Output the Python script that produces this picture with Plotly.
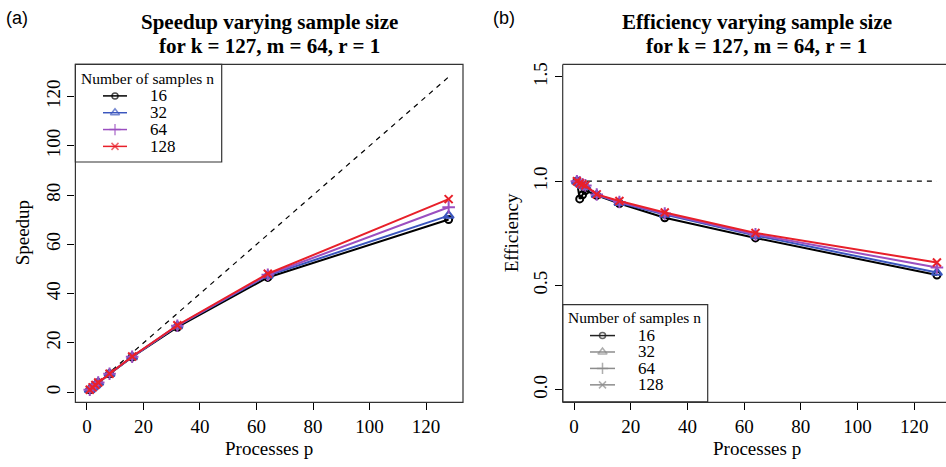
import plotly.graph_objects as go

# ---------------- data ----------------
p = [1, 2, 3, 4, 8, 16, 32, 64, 128]
n_labels = ["16", "32", "64", "128"]

speedup_n16 = [1.0, 1.83, 2.80, 3.82, 7.46, 14.3, 26.4, 46.6, 70.1]
speedup_n32 = [1.0, 1.98, 2.94, 3.90, 7.48, 14.35, 26.9, 47.4, 71.7]
speedup_n64 = [1.0, 1.99, 2.95, 3.92, 7.49, 14.4, 27.0, 47.7, 75.1]
speedup_n128 = [1.0, 1.98, 2.96, 3.92, 7.50, 14.5, 27.2, 48.1, 78.4]

eff_n16 = [1.0, 0.915, 0.935, 0.955, 0.932, 0.893, 0.825, 0.728, 0.550]
eff_n32 = [1.0, 0.990, 0.980, 0.975, 0.935, 0.897, 0.840, 0.740, 0.562]
eff_n64 = [1.0, 0.995, 0.985, 0.980, 0.936, 0.900, 0.845, 0.745, 0.586]
eff_n128 = [1.0, 0.990, 0.985, 0.980, 0.937, 0.905, 0.850, 0.752, 0.610]

ideal_speedup = [1, 128]
ideal_p = [1, 128]
ideal_eff = [1, 1]

x_ticks = [0, 20, 40, 60, 80, 100, 120]
speedup_ticks = [0, 20, 40, 60, 80, 100, 120]
eff_ticks = [0.0, 0.5, 1.0, 1.5]
eff_tick_text = ["0.0", "0.5", "1.0", "1.5"]

speedups = [speedup_n16, speedup_n32, speedup_n64, speedup_n128]
effs = [eff_n16, eff_n32, eff_n64, eff_n128]

# ---------------- style ----------------
colors = ["#000000", "#3B56BE", "#9B4FC0", "#E8202A"]
legend_gray = ["#222222", "#8C8C8C", "#8C8C8C", "#8C8C8C"]
symbols = ["circle-open", "triangle-up-open", "cross-thin-open", "x-thin-open"]
msizes = [7, 9, 9, 8]
SERIF = "Liberation Serif, Times New Roman, serif"
SANS = "Liberation Sans, Arial, sans-serif"
W, H = 946, 467

def fx(px):
    return px / W

def fy(py):
    return 1 - py / H

# plot regions in pixels
L_X0, L_X1 = 75.4, 463.0
R_X0, R_X1 = 562.7, 946.0
Y_TOP, Y_BOT = 62.7, 402.0

fig = go.Figure()

# ideal lines
fig.add_trace(go.Scatter(x=ideal_p, y=ideal_speedup, mode="lines",
                         line=dict(color="black", width=1.2, dash="5px,5px"),
                         xaxis="x", yaxis="y", showlegend=False, hoverinfo="skip"))
fig.add_trace(go.Scatter(x=ideal_p, y=ideal_eff, mode="lines",
                         line=dict(color="black", width=1.2, dash="5px,5px"),
                         xaxis="x2", yaxis="y2", showlegend=False, hoverinfo="skip"))

for i in range(4):
    mk = dict(symbol=symbols[i], size=msizes[i], color=colors[i],
              line=dict(color=colors[i], width=2))
    fig.add_trace(go.Scatter(x=p, y=speedups[i], mode="lines+markers",
                             line=dict(color=colors[i], width=2), marker=mk,
                             xaxis="x", yaxis="y", showlegend=False, name=n_labels[i]))
    fig.add_trace(go.Scatter(x=p, y=effs[i], mode="lines+markers",
                             line=dict(color=colors[i], width=2), marker=mk,
                             xaxis="x2", yaxis="y2", showlegend=False, name=n_labels[i]))

# ---------------- legends (drawn manually, R style) ----------------
legends = [
    dict(box=(75.4, 62.7, 221.7, 160.7), title=(78.5, 76.5),
         items=[94.3, 111.2, 128.1, 145.0], key=(103, 115, 127), text_x=148,
         cols=colors),
    dict(box=(562.7, 304.0, 707.7, 401.5), title=(565.7, 316.5),
         items=[335.0, 351.5, 368.0, 384.5], key=(590, 602.5, 615), text_x=636,
         cols=legend_gray),
]

shapes = []
annotations = []
for lg in legends:
    bx0, by0, bx1, by1 = lg["box"]
    shapes.append(dict(type="rect", xref="paper", yref="paper",
                       x0=fx(bx0), x1=fx(bx1), y0=fy(by1), y1=fy(by0),
                       line=dict(color="#333333", width=1.2),
                       fillcolor="white", layer="below"))
    annotations.append(dict(x=fx(lg["title"][0]), y=fy(lg["title"][1]), xref="paper", yref="paper",
                            text="Number of samples n", showarrow=False,
                            xanchor="left", yanchor="middle",
                            font=dict(family=SERIF, size=15.5, color="black")))
    k0, km, k1 = lg["key"]
    for i, yy in enumerate(lg["items"]):
        c = lg["cols"][i]
        fig.add_trace(go.Scatter(x=[k0, km, k1], y=[yy, yy, yy], mode="lines+markers",
                                 line=dict(color=c, width=1.5),
                                 marker=dict(symbol=symbols[i], size=[0, msizes[i] - 1, 0],
                                             color=c, line=dict(color=c, width=1.5)),
                                 xaxis="x3", yaxis="y3", showlegend=False, hoverinfo="skip"))
        annotations.append(dict(x=fx(lg["text_x"]), y=fy(yy), xref="paper", yref="paper",
                                text=n_labels[i], showarrow=False,
                                xanchor="left", yanchor="middle",
                                font=dict(family=SERIF, size=17, color="black")))

# plot boxes
shapes.append(dict(type="rect", xref="x domain", yref="y domain", x0=0, x1=1, y0=0, y1=1,
                   line=dict(color="#333333", width=1.2), layer="above"))
for (xa0, ya0, xa1, ya1) in [(0, 0, 0, 1), (0, 1, 1, 1), (0, 0, 1, 0)]:
    shapes.append(dict(type="line", xref="x2 domain", yref="y2 domain",
                       x0=xa0, y0=ya0, x1=xa1, y1=ya1,
                       line=dict(color="#333333", width=1.2), layer="above"))

# titles and labels
for cx, txt in [((L_X0 + 462.8) / 2, "Speedup varying sample size"),
                ((R_X0 + 951) / 2, "Efficiency varying sample size")]:
    annotations.append(dict(x=fx(cx), y=fy(20), xref="paper", yref="paper", text="<b>%s</b>" % txt,
                            showarrow=False, xanchor="center", yanchor="middle",
                            font=dict(family=SERIF, size=21, color="black")))
    annotations.append(dict(x=fx(cx), y=fy(44), xref="paper", yref="paper",
                            text="<b>for k = 127, m = 64, r = 1</b>",
                            showarrow=False, xanchor="center", yanchor="middle",
                            font=dict(family=SERIF, size=21, color="black")))

annotations.append(dict(x=fx(17), y=fy(16), xref="paper", yref="paper", text="(a)", showarrow=False,
                        xanchor="center", yanchor="middle", font=dict(family=SANS, size=18, color="black")))
annotations.append(dict(x=fx(504), y=fy(16), xref="paper", yref="paper", text="(b)", showarrow=False,
                        xanchor="center", yanchor="middle", font=dict(family=SANS, size=18, color="black")))

for cx in [(L_X0 + 462.8) / 2, (R_X0 + 951) / 2]:
    annotations.append(dict(x=fx(cx), y=fy(448), xref="paper", yref="paper", text="Processes p",
                            showarrow=False, xanchor="center", yanchor="middle",
                            font=dict(family=SERIF, size=19, color="black")))
annotations.append(dict(x=fx(22), y=fy((Y_TOP + Y_BOT) / 2), xref="paper", yref="paper", text="Speedup",
                        showarrow=False, textangle=-90, xanchor="center", yanchor="middle",
                        font=dict(family=SERIF, size=19, color="black")))
annotations.append(dict(x=fx(511), y=fy((Y_TOP + Y_BOT) / 2), xref="paper", yref="paper", text="Efficiency",
                        showarrow=False, textangle=-90, xanchor="center", yanchor="middle",
                        font=dict(family=SERIF, size=19, color="black")))

axis_common = dict(showgrid=False, zeroline=False, showline=False, ticks="outside", ticklen=7,
                   tickwidth=1.2, tickcolor="black",
                   tickfont=dict(family=SERIF, size=19, color="black"))

fig.update_layout(
    width=W, height=H, autosize=False,
    margin=dict(l=0, r=0, t=0, b=0),
    paper_bgcolor="white", plot_bgcolor="rgba(0,0,0,0)",
    showlegend=False,
    xaxis=dict(domain=[fx(L_X0), fx(L_X1)], range=[-4.08, 133.08], tickvals=x_ticks,
               anchor="y", **axis_common),
    yaxis=dict(domain=[fy(Y_BOT), fy(Y_TOP)], range=[-4.08, 133.08], tickvals=speedup_ticks,
               tickangle=-90, anchor="x", **axis_common),
    xaxis2=dict(domain=[fx(R_X0), 1.0], range=[-4.0, 131.2], tickvals=x_ticks,
                anchor="y2", **axis_common),
    yaxis2=dict(domain=[fy(Y_BOT), fy(Y_TOP)], range=[-0.06, 1.56], tickvals=eff_ticks,
                ticktext=eff_tick_text, tickangle=-90, anchor="x2", **axis_common),
    xaxis3=dict(domain=[0, 1], range=[0, W], visible=False, fixedrange=True, anchor="y3"),
    yaxis3=dict(domain=[0, 1], range=[H, 0], visible=False, fixedrange=True, anchor="x3"),
    shapes=shapes,
    annotations=annotations,
)

fig.write_html("out.html", config={"displayModeBar": False},
               post_script="document.body.style.margin='0px';")
